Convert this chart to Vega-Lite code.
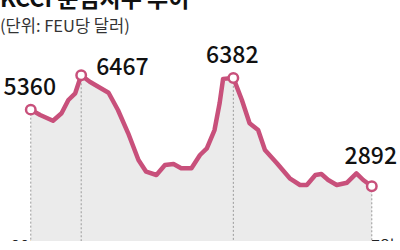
{
  "$schema": "https://vega.github.io/schema/vega-lite/v6.json",
  "width": 400,
  "height": 241,
  "padding": 0,
  "autosize": {"type": "none"},
  "background": "white",
  "config": {"view": {"stroke": null}, "font": "Noto Sans CJK KR"},
  "title": {
    "text": "KCCI 운임지수 추이",
    "subtitle": "(단위: FEU당 달러)",
    "anchor": "start",
    "frame": "group",
    "orient": "top",
    "offset": -35,
    "fontSize": 23,
    "fontWeight": "bold",
    "color": "#111111",
    "font": "Noto Sans CJK KR",
    "subtitleFont": "Noto Sans CJK KR",
    "subtitleFontSize": 16.5,
    "subtitleColor": "#333333",
    "subtitlePadding": 7
  },
  "data": {
    "values": [
      {"date": "2024-10-14", "value": 5360, "label": 5360},
      {"date": "2024-10-25", "value": 5187},
      {"date": "2024-11-09", "value": 5003},
      {"date": "2024-11-19", "value": 5242},
      {"date": "2024-11-27", "value": 5670},
      {"date": "2024-12-05", "value": 5886},
      {"date": "2024-12-12", "value": 6467, "label": 6467},
      {"date": "2024-12-22", "value": 6259},
      {"date": "2025-01-13", "value": 5905},
      {"date": "2025-01-24", "value": 5348},
      {"date": "2025-02-05", "value": 4598},
      {"date": "2025-02-17", "value": 3738},
      {"date": "2025-02-26", "value": 3361},
      {"date": "2025-03-10", "value": 3255},
      {"date": "2025-03-20", "value": 3577},
      {"date": "2025-03-30", "value": 3609},
      {"date": "2025-04-08", "value": 3471},
      {"date": "2025-04-20", "value": 3471},
      {"date": "2025-04-30", "value": 3899},
      {"date": "2025-05-08", "value": 4115},
      {"date": "2025-05-17", "value": 4704},
      {"date": "2025-05-23", "value": 5573},
      {"date": "2025-05-27", "value": 6350},
      {"date": "2025-06-08", "value": 6382, "label": 6382},
      {"date": "2025-06-18", "value": 5670},
      {"date": "2025-06-27", "value": 4920},
      {"date": "2025-07-07", "value": 4704},
      {"date": "2025-07-15", "value": 4060},
      {"date": "2025-07-29", "value": 3632},
      {"date": "2025-08-13", "value": 3149},
      {"date": "2025-08-25", "value": 2933},
      {"date": "2025-09-02", "value": 2933},
      {"date": "2025-09-12", "value": 3255},
      {"date": "2025-09-19", "value": 3287},
      {"date": "2025-09-27", "value": 3094},
      {"date": "2025-10-07", "value": 2933},
      {"date": "2025-10-19", "value": 3007},
      {"date": "2025-10-30", "value": 3310},
      {"date": "2025-11-07", "value": 3094},
      {"date": "2025-11-17", "value": 2892, "label": 2892}
    ]
  },
  "encoding": {
    "x": {
      "field": "date",
      "type": "temporal",
      "scale": {"domain": [{"year": 2024, "month": 9, "date": 8, "utc": true}, {"year": 2025, "month": 12, "date": 20, "utc": true}]},
      "axis": {
        "values": [
          {"year": 2024, "month": 10, "date": 20, "utc": true},
          {"year": 2025, "month": 1, "date": 28, "utc": true},
          {"year": 2025, "month": 6, "date": 5, "utc": true},
          {"year": 2025, "month": 11, "date": 3, "utc": true}
        ],
        "labelExpr": "utcmonth(datum.value) == 9 ? '2024년' : utcmonth(datum.value) == 0 ? '2025년' : utcmonth(datum.value) == 5 ? '6월 16일' : '11월 17일'",
        "title": null,
        "grid": false,
        "ticks": false,
        "domainColor": "#9a9a9a",
        "domainWidth": 1,
        "labelFont": "Noto Sans CJK KR",
        "labelFontSize": 16,
        "labelColor": "#222222",
        "labelPadding": -3,
        "labelFlush": false,
        "labelOverlap": false
      }
    },
    "y": {
      "field": "value",
      "type": "quantitative",
      "scale": {"domain": [1130, 8890], "zero": false, "nice": false},
      "axis": null
    }
  },
  "layer": [
    {"mark": {"type": "area", "color": "#ebebeb"}},
    {
      "transform": [{"filter": "isValid(datum.label)"}],
      "mark": {"type": "rule", "color": "#9a9a9a", "strokeWidth": 1, "strokeDash": [2, 2]},
      "encoding": {"y2": {"datum": 1130}}
    },
    {"mark": {"type": "line", "color": "#c8507b", "strokeWidth": 4.5, "strokeJoin": "round", "strokeCap": "round"}},
    {
      "transform": [{"filter": "isValid(datum.label)"}],
      "mark": {"type": "point", "filled": false, "fill": "white", "fillOpacity": 1, "stroke": "#c8507b", "strokeWidth": 2.5, "size": 90, "opacity": 1}
    },
    {
      "transform": [{"filter": "datum.label === 5360 || datum.label === 6382"}],
      "mark": {"type": "text", "align": "center", "baseline": "alphabetic", "dy": -15, "dx": -1, "fontSize": 23, "fontWeight": 500, "font": "Noto Sans CJK KR", "color": "#111111"},
      "encoding": {"text": {"field": "label", "type": "quantitative", "format": "d"}}
    },
    {
      "transform": [{"filter": "datum.label === 6467"}],
      "mark": {"type": "text", "align": "left", "baseline": "alphabetic", "dx": 15, "dy": 0, "fontSize": 23, "fontWeight": 500, "font": "Noto Sans CJK KR", "color": "#111111"},
      "encoding": {"text": {"field": "label", "type": "quantitative", "format": "d"}}
    },
    {
      "transform": [{"filter": "datum.label === 2892"}],
      "mark": {"type": "text", "align": "center", "baseline": "alphabetic", "dy": -22, "dx": -1, "fontSize": 23, "fontWeight": 500, "font": "Noto Sans CJK KR", "color": "#111111"},
      "encoding": {"text": {"field": "label", "type": "quantitative", "format": "d"}}
    }
  ]
}
